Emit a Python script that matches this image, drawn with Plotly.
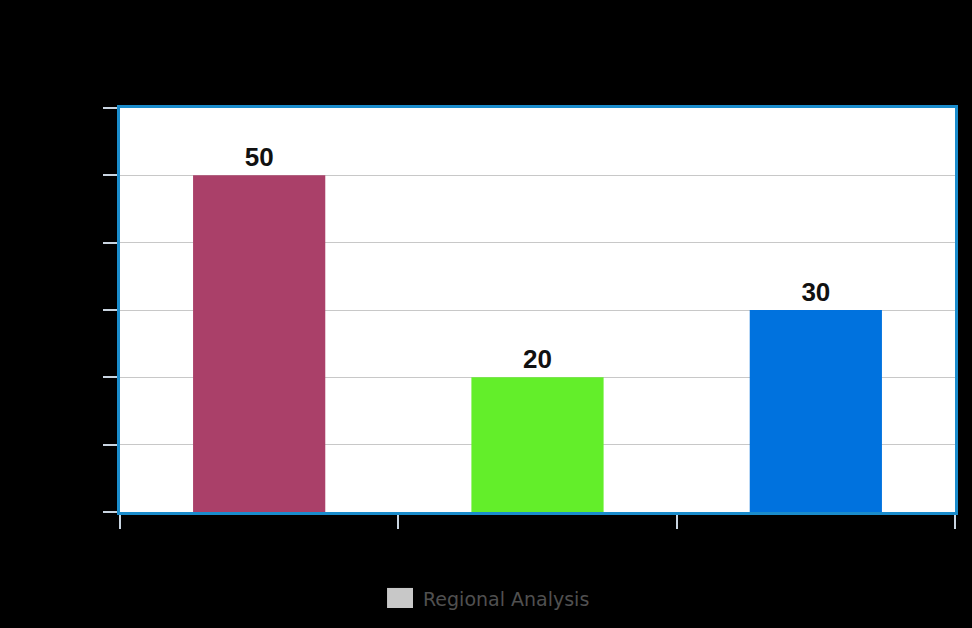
import plotly.graph_objects as go

categories = ["North", "South", "East"]
values = [50, 20, 30]
bar_colors = ["#AA4069", "#63EE2A", "#0072DE"]
series_name = "Regional Analysis"
y_ticks = [0, 10, 20, 30, 40, 50, 60]

fig = go.Figure()
fig.add_trace(go.Bar(
    x=categories, y=values, name=series_name,
    marker=dict(color=bar_colors, line=dict(width=0)),
    text=[str(v) for v in values], textposition="outside",
    texttemplate="<b>%{text}</b>",
    textfont=dict(family="Liberation Sans, Arial", size=26, color="#111111"),
    cliponaxis=False, showlegend=False, width=0.475,
))

# legend drawn as swatch + label (larger swatch than plotly's built-in legend)
fig.add_shape(type="rect", xref="paper", yref="paper",
              x0=0.3198, x1=0.3509, y0=-0.2376, y1=-0.188,
              fillcolor="#C8C8C8", line=dict(width=0))
fig.add_annotation(text=series_name, xref="paper", yref="paper",
                   x=0.3605, y=-0.2153, xanchor="left", yanchor="middle",
                   showarrow=False,
                   font=dict(family="DejaVu Sans, Verdana", size=19, color="#505050"))

fig.update_layout(
    width=972, height=628,
    paper_bgcolor="#000000", plot_bgcolor="#FFFFFF",
    margin=dict(l=120, r=17, t=108, b=116),
    showlegend=False,
    font=dict(family="Liberation Sans, Arial", color="#000000"),
)
fig.update_xaxes(
    type="category", tickson="boundaries",
    showline=True, mirror=True, linecolor="#1A8CCC", linewidth=3,
    ticks="outside", ticklen=14, tickwidth=2, tickcolor="#C8D4E0",
    tickfont=dict(color="#000000", size=12),
    showgrid=False,
)
fig.update_yaxes(
    range=[0, 60], tickvals=y_ticks,
    showline=True, mirror=True, linecolor="#1A8CCC", linewidth=3,
    ticks="outside", ticklen=14, tickwidth=2, tickcolor="#C8D4E0",
    tickfont=dict(color="#000000", size=12),
    showgrid=True, gridcolor="#C8C8C8", gridwidth=1,
    zeroline=False,
)

fig.write_html(
    "out.html",
    config={"displayModeBar": False},
    post_script="document.body.style.margin='0';document.body.style.background='#000';",
)
